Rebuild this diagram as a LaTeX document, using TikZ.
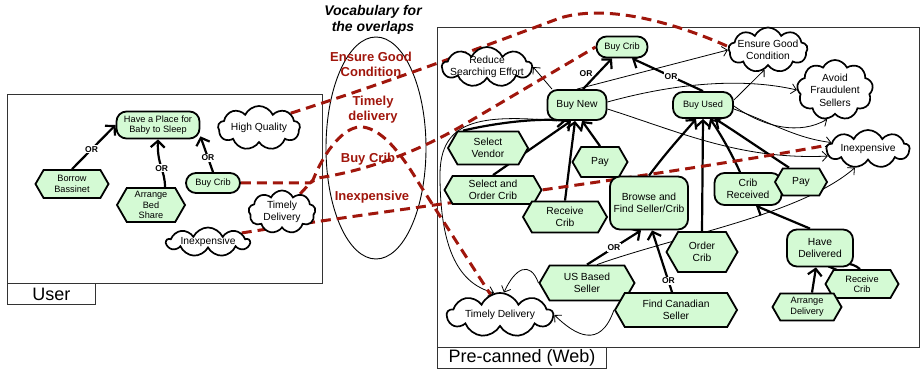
\documentclass[tikz,border=0pt]{standalone}
\usepackage{fontspec}
\setmainfont{Liberation Sans}
\usetikzlibrary{shapes.symbols,shapes.geometric,arrows.meta}
\definecolor{goalgreen}{RGB}{212,250,212}
\definecolor{ovred}{RGB}{160,22,12}
\newcommand\txtS{\fontsize{9.2}{10.5}\selectfont}
\newcommand\txtL{\fontsize{10.3}{12.5}\selectfont}
\pgfdeclarelayer{boxes}
\pgfdeclarelayer{links}
\pgfdeclarelayer{overlaps}
\pgfsetlayers{boxes,links,overlaps,main}
\tikzset{
  goal/.style={draw, fill=goalgreen, line width=1.8pt, rounded corners=10pt, align=center, inner sep=1pt},
  task/.style={draw, fill=goalgreen, line width=1.8pt, shape=signal, signal to=east and west,
    signal pointer angle=120, align=center, inner sep=1pt},
  soft/.style={draw, fill=white, line width=1.7pt, shape=cloud, cloud puffs=9, cloud puff arc=130,
    cloud ignores aspect, inner sep=0pt},
  softtxt/.style={align=center, inner sep=0pt, font=\txtL},
  dec/.style={line width=2.2pt, -{Straight Barb[length=6.5pt,width=14pt]}},
  contrib/.style={line width=0.8pt, -{Straight Barb[length=5pt,width=10pt]}},
  ovl/.style={draw=ovred, line width=3pt, dash pattern=on 10pt off 6pt},
  orlab/.style={font=\fontsize{8.5}{9}\selectfont\bfseries, fill=white, inner sep=1pt},
  vocab/.style={text=ovred, font=\fontsize{13}{15}\selectfont\bfseries, align=center},
  frame/.style={draw=black!80, line width=0.9pt},
}
\begin{document}
\begin{tikzpicture}[x=1pt,y=-1pt]
\useasboundingbox (0,0) rectangle (921,371);

% ---------- frames and the vocabulary ellipse ----------
\begin{pgfonlayer}{boxes}
  \draw[frame] (7,94) rectangle (322,283);
  \draw[frame] (437,27) rectangle (919.5,347);
  \draw[line width=0.9pt] (376,148) ellipse [x radius=50pt, y radius=111pt];
\end{pgfonlayer}
\node[frame, minimum width=88pt, minimum height=21pt, anchor=north west, inner sep=0pt,
  font=\fontsize{18}{20}\selectfont] (userlab) at (7,283) {User};
\node[frame, minimum width=169pt, minimum height=21pt, anchor=north west, inner sep=0pt,
  font=\fontsize{18}{20}\selectfont] (weblab) at (437,347) {Pre-canned (Web)};

\node[align=center, font=\fontsize{14}{16}\selectfont\bfseries\itshape] (voc) at (373,20)
  {Vocabulary for\\the overlaps};
\node[vocab] (vEGC) at (371,64.5) {Ensure Good\\Condition};
\node[vocab] (vTD) at (373,109.5) {Timely\\delivery};
\node[vocab] (vBC) at (368,159) {Buy Crib};
\node[vocab] (vIN) at (372,197) {Inexpensive};

% ---------- User model ----------
\node[goal, font=\txtS, minimum width=83pt, minimum height=27pt] (hp) at (158,125) {Have a Place for\\Baby to Sleep};
\node[task, font=\txtS, minimum width=73pt, minimum height=28pt] (bb) at (72,184) {Borrow\\Bassinet};
\node[task, font=\txtS, minimum width=68pt, minimum height=34pt] (ab) at (151,205) {Arrange\\Bed\\Share};
\node[goal, font=\txtS, minimum width=54pt, minimum height=20pt] (bcU) at (213,183) {Buy Crib};
\node[soft, minimum width=82pt, minimum height=44pt] (hq) at (259,128) {};
\node[softtxt] (hqT) at (hq) {High Quality};
\node[soft, minimum width=67pt, minimum height=43pt] (tdU) at (282,212) {};
\node[softtxt] (tdUT) at (tdU) {Timely\\Delivery};
\node[soft, minimum width=83pt, minimum height=29pt] (inU) at (208,242) {};
\node[softtxt] (inUT) at (inU) {Inexpensive};

% ---------- Pre-canned (Web) model ----------
\node[soft, minimum width=90pt, minimum height=40pt] (rse) at (487,67) {};
\node[softtxt] (rseT) at (rse) {Reduce\\Searching Effort};
\node[goal, font=\txtS, minimum width=51pt, minimum height=21pt] (bcR) at (622,47) {Buy Crib};
\node[goal, font=\txtL, minimum width=59pt, minimum height=30pt] (bn) at (577,105) {Buy New};
\node[task, font=\txtL, minimum width=80pt, minimum height=33pt] (sv) at (488,148) {Select\\Vendor};
\node[task, font=\txtL, minimum width=55pt, minimum height=30pt] (payA) at (600,162) {Pay};
\node[task, font=\txtL, minimum width=97pt, minimum height=28pt] (soc) at (493,190) {Select and\\Order Crib};
\node[goal, font=\txtL, minimum width=78pt, minimum height=53pt] (bf) at (649,203) {Browse and\\Find Seller/Crib};
\node[task, font=\txtL, minimum width=84pt, minimum height=31pt] (rcA) at (565,217) {Receive\\Crib};
\node[task, font=\txtL, minimum width=95pt, minimum height=35pt] (us) at (587,283) {US Based\\Seller};
\node[task, font=\txtL, minimum width=122pt, minimum height=34pt] (fcs) at (676,310) {Find Canadian\\Seller};
\node[task, font=\txtL, minimum width=71pt, minimum height=40pt] (oc) at (702,252) {Order\\Crib};
\node[soft, minimum width=106pt, minimum height=44pt] (tdR) at (500,315) {};
\node[softtxt] (tdRT) at (tdR) {Timely Delivery};
\node[goal, font=\txtS, minimum width=60pt, minimum height=26pt] (bu) at (703,105) {Buy Used};
\node[soft, minimum width=79pt, minimum height=45pt] (egc) at (768,50) {};
\node[softtxt] (egcT) at (egc) {Ensure Good\\Condition};
\node[soft, minimum width=76pt, minimum height=60pt] (af) at (835,90) {};
\node[softtxt] (afT) at (af) {Avoid\\Fraudulent\\Sellers};
\node[soft, minimum width=83pt, minimum height=38pt] (inR) at (868,149) {};
\node[softtxt] (inRT) at (inR) {Inexpensive};
\node[goal, font=\txtL, minimum width=67pt, minimum height=32pt] (cr) at (748,189) {Crib\\Received};
\node[task, font=\txtL, minimum width=52pt, minimum height=27pt] (payB) at (801,182) {Pay};
\node[goal, font=\txtL, minimum width=66pt, minimum height=37pt] (hd) at (820,248) {Have\\Delivered};
\node[task, font=\txtS, minimum width=73pt, minimum height=28pt] (rcB) at (862,284) {Receive\\Crib};
\node[task, font=\txtS, minimum width=69pt, minimum height=27pt] (ad) at (807,307) {Arrange\\Delivery};

% ---------- decompositions and contributions ----------
\begin{pgfonlayer}{links}
  \draw[dec] (bb.north) -- node[orlab, pos=0.45]{OR} (hp.west);
  \draw[dec] ([xshift=14pt]ab.north) .. controls (165,170) and (157,165) .. node[orlab, pos=0.45]{OR} (hp.south);
  \draw[dec] (bcU.north) -- node[orlab, pos=0.4]{OR} (hp.-15);

  \draw[dec] ([xshift=6pt]bn.north) -- node[orlab, fill=none, left=3pt, pos=0.5]{OR} ([xshift=-10pt]bcR.south);
  \draw[dec] (bu.north) -- node[orlab, pos=0.45]{OR} ([xshift=10pt]bcR.south);
  \draw[dec] ([xshift=-25pt]sv.north) .. controls (500,122) and (540,118) .. ([xshift=-11pt]bn.south);
  \draw[dec] (soc.north) -- ([xshift=-6pt]bn.south);
  \draw[dec] (rcA.north) -- ([xshift=-2pt]bn.south);
  \draw[dec] (payA.north) -- ([xshift=5pt]bn.south);
  \draw[dec] (bf.north) .. controls (668,150) and (685,132) .. ([xshift=-7pt]bu.south);
  \draw[dec] (oc.north) -- (bu.south);
  \draw[dec] ([xshift=-8pt]cr.north) .. controls (730,150) and (718,130) .. ([xshift=7pt]bu.south);
  \draw[dec] ([xshift=-12pt]payB.north) .. controls (765,152) and (730,128) .. ([xshift=12pt]bu.south);
  \draw[dec] (us.north) -- node[orlab, pos=0.5]{OR} ([xshift=-8pt]bf.south);
  \draw[dec] ([xshift=-4pt]fcs.north) -- node[orlab, pos=0.18]{OR} ([xshift=3pt]bf.south);
  \draw[dec] ([xshift=-10pt]hd.north) -- ([xshift=8pt]cr.south);
  \draw[dec] ([xshift=5pt]ad.north) -- ([xshift=-4pt]hd.south);
  \draw[dec] ([xshift=-2pt]rcB.north) .. controls (852,262) and (840,262) .. ([xshift=8pt]hd.south);

  \draw[contrib] ([xshift=-25pt]bn.north) -- (rse.east);
  \draw[contrib] (bn.north) -- (egc.west);
  \draw[contrib] ([yshift=3pt]bn.east) .. controls (680,82) and (745,78) .. (af.west);
  \draw[contrib] ([yshift=-4pt]bn.east) .. controls (680,132) and (740,160) .. (inR.190);
  \draw[contrib] ([yshift=5pt]bu.east) -- (egc.-100);
  \draw[contrib] ([yshift=-1pt]bu.east) .. controls (765,128) and (800,135) .. (af.-105);
  \draw[contrib] ([yshift=-4pt]bu.east) .. controls (770,122) and (795,138) .. (inR.170);
  \draw[contrib] ([xshift=10pt]us.north) .. controls (680,235) and (800,215) .. (inR.-125);
  \draw[contrib] ([xshift=-20pt]bn.south) .. controls (480,114) and (440,120) .. (440,175)
     .. controls (440,260) and (465,285) .. (tdR.105);
  \draw[contrib] (us.west) .. controls (530,260) and (515,268) .. (tdR.80);
  \draw[contrib] (fcs.west) .. controls (600,350) and (575,335) .. (tdR.east);
\end{pgfonlayer}

% ---------- overlap links between the two models ----------
\begin{pgfonlayer}{overlaps}
  \draw[ovl] (hq.25) .. controls (380,85) and (480,48) .. (560,18) .. controls (610,3) and (680,25) .. (egc.175);
  \draw[ovl] (bcU.east) -- (310,183) -- (318,178) .. controls (370,170) and (420,150) .. (460,127) -- (bcR.west);
  \draw[ovl] (tdU.45) -- (313,180) .. controls (325,150) and (345,125) .. (363,127)
     .. controls (385,130) and (405,160) .. (420,185) -- (tdR.115);
  \draw[ovl] (inU.15) .. controls (400,208) and (650,178) .. (inR.175);
\end{pgfonlayer}
\end{tikzpicture}
\end{document}
